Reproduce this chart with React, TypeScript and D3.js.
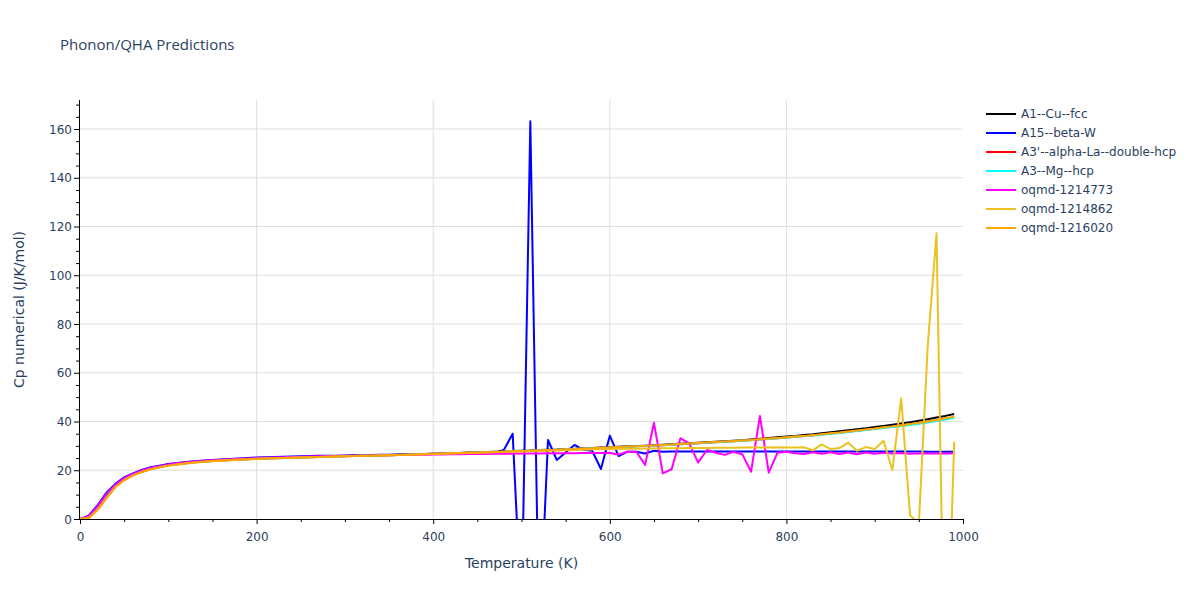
import { FC, useEffect, useRef } from 'react';
import * as d3 from 'd3';

// Temperature grid (K), one point every 10 K
const temperatures: number[] = d3.range(0, 1000, 10);

const seriesNames = [
  'A1--Cu--fcc',
  'A15--beta-W',
  "A3'--alpha-La--double-hcp",
  'A3--Mg--hcp',
  'oqmd-1214773',
  'oqmd-1214862',
  'oqmd-1216020',
];

const seriesColors = ['#000000', '#0000ff', '#ff0000', '#00ffff', '#ff00ff', '#ebc124', '#ffa500'];

const cuFcc = [
  0, 0.6, 4.2, 9.2, 13.5, 16.3, 18.2, 19.6, 20.7, 21.5,
  22.1, 22.6, 23.0, 23.4, 23.7, 23.9, 24.1, 24.3, 24.5, 24.6,
  24.8, 24.9, 25.0, 25.1, 25.2, 25.3, 25.4, 25.5, 25.6, 25.7,
  25.8, 25.9, 26.0, 26.1, 26.2, 26.3, 26.4, 26.5, 26.6, 26.7,
  26.8, 26.9, 27.0, 27.1, 27.3, 27.4, 27.5, 27.6, 27.7, 27.9,
  28.0, 28.1, 28.3, 28.4, 28.5, 28.7, 28.8, 29.0, 29.1, 29.3,
  29.4, 29.6, 29.8, 29.9, 30.1, 30.3, 30.5, 30.7, 30.9, 31.1,
  31.3, 31.5, 31.7, 31.9, 32.1, 32.3, 32.6, 32.9, 33.2, 33.5,
  33.8, 34.1, 34.5, 34.8, 35.2, 35.6, 36.0, 36.4, 36.8, 37.2,
  37.7, 38.2, 38.7, 39.2, 39.7, 40.3, 40.9, 41.6, 42.3, 43.1,
];

const betaW = [
  0, 1.4, 5.7, 10.8, 14.4, 17.1, 18.7, 20.1, 21.2, 21.9,
  22.6, 23.0, 23.4, 23.7, 24.0, 24.2, 24.4, 24.6, 24.8, 25.0,
  25.2, 25.3, 25.4, 25.5, 25.6, 25.7, 25.8, 25.9, 25.9, 26.0,
  26.1, 26.2, 26.2, 26.3, 26.4, 26.4, 26.5, 26.6, 26.6, 26.7,
  26.8, 26.8, 26.9, 27.0, 27.1, 27.1, 27.2, 27.3, 28.3, 35.0,
  -40.0, 163.2, -50.0, 32.4, 24.2, 27.3, 30.4, 28.4, 28.0, 20.5,
  34.2, 25.8, 27.6, 27.6, 26.9, 28.0, 27.6, 27.7, 27.7, 27.7,
  27.7, 27.7, 27.7, 27.7, 27.7, 27.7, 27.7, 27.7, 27.7, 27.7,
  27.7, 27.7, 27.7, 27.7, 27.7, 27.7, 27.7, 27.7, 27.7, 27.7,
  27.7, 27.7, 27.7, 27.7, 27.7, 27.7, 27.6, 27.6, 27.6, 27.6,
];

const alphaLa = [
  0, 0.5, 3.9, 8.8, 13.2, 16.0, 18.0, 19.4, 20.5, 21.3,
  22.0, 22.5, 22.9, 23.3, 23.6, 23.8, 24.0, 24.2, 24.4, 24.5,
  24.7, 24.8, 24.9, 25.0, 25.1, 25.2, 25.3, 25.4, 25.5, 25.6,
  25.7, 25.8, 25.9, 26.0, 26.1, 26.2, 26.3, 26.4, 26.5, 26.6,
  26.7, 26.8, 27.0, 27.1, 27.2, 27.3, 27.4, 27.5, 27.6, 27.8,
  27.9, 28.0, 28.2, 28.3, 28.4, 28.6, 28.7, 28.9, 29.0, 29.1,
  29.3, 29.5, 29.6, 29.8, 30.0, 30.1, 30.3, 30.5, 30.7, 30.9,
  31.1, 31.3, 31.5, 31.7, 31.9, 32.1, 32.4, 32.6, 32.9, 33.1,
  33.4, 33.7, 34.0, 34.4, 34.7, 35.1, 35.4, 35.8, 36.2, 36.6,
  37.0, 37.4, 37.9, 38.3, 38.8, 39.3, 39.8, 40.4, 41.0, 41.7,
];

const mgHcp = [
  0, 0.5, 4.0, 8.9, 13.3, 16.1, 18.0, 19.4, 20.5, 21.3,
  22.0, 22.5, 22.9, 23.3, 23.6, 23.8, 24.0, 24.2, 24.4, 24.6,
  24.7, 24.8, 24.9, 25.0, 25.1, 25.2, 25.3, 25.4, 25.5, 25.6,
  25.7, 25.8, 25.9, 26.0, 26.1, 26.2, 26.3, 26.4, 26.5, 26.6,
  26.7, 26.8, 26.9, 27.0, 27.2, 27.3, 27.4, 27.5, 27.6, 27.8,
  27.9, 28.0, 28.2, 28.3, 28.4, 28.6, 28.7, 28.9, 29.0, 29.1,
  29.3, 29.4, 29.6, 29.8, 29.9, 30.1, 30.3, 30.5, 30.7, 30.9,
  31.1, 31.3, 31.5, 31.7, 31.9, 32.1, 32.3, 32.6, 32.8, 33.1,
  33.4, 33.7, 34.0, 34.3, 34.6, 35.0, 35.3, 35.7, 36.1, 36.5,
  36.9, 37.3, 37.7, 38.2, 38.6, 39.1, 39.6, 40.2, 40.8, 41.5,
];

const oqmd1214773 = [
  0, 1.2, 5.3, 10.3, 14.0, 16.8, 18.5, 19.9, 21.0, 21.7,
  22.4, 22.9, 23.3, 23.6, 23.9, 24.1, 24.3, 24.5, 24.7, 24.8,
  25.0, 25.1, 25.2, 25.3, 25.4, 25.5, 25.6, 25.7, 25.7, 25.8,
  25.9, 26.0, 26.0, 26.1, 26.2, 26.2, 26.3, 26.3, 26.4, 26.4,
  26.5, 26.5, 26.6, 26.6, 26.7, 26.7, 26.7, 26.8, 26.8, 26.8,
  26.9, 26.9, 26.9, 27.0, 27.0, 27.0, 27.0, 27.1, 27.1, 27.1,
  27.2, 26.4, 27.6, 27.6, 22.2, 39.5, 18.7, 20.4, 33.1, 31.0,
  23.1, 28.3, 27.2, 26.3, 27.6, 26.6, 19.4, 42.3, 19.0, 27.2,
  27.6, 27.0, 26.7, 27.4, 26.8, 27.4, 26.7, 27.3, 26.6, 27.3,
  26.8, 27.2, 26.9, 27.1, 26.8, 27.0, 26.9, 27.0, 26.9, 27.0,
];

const oqmd1214862 = [
  0, 0.4, 3.9, 8.7, 13.1, 15.9, 17.9, 19.3, 20.4, 21.2,
  21.9, 22.4, 22.8, 23.2, 23.5, 23.7, 23.9, 24.1, 24.3, 24.5,
  24.6, 24.8, 24.9, 25.0, 25.1, 25.2, 25.3, 25.4, 25.5, 25.6,
  25.7, 25.8, 25.9, 26.0, 26.1, 26.2, 26.3, 26.4, 26.5, 26.6,
  26.7, 26.8, 26.9, 27.0, 27.1, 27.2, 27.3, 27.4, 27.5, 27.6,
  27.7, 27.8, 27.9, 28.0, 28.1, 28.2, 28.3, 28.4, 28.5, 28.6,
  28.7, 28.7, 28.8, 28.8, 28.9, 28.9, 29.0, 29.0, 29.0, 29.1,
  29.1, 29.1, 29.2, 29.2, 29.2, 29.3, 29.3, 29.3, 29.3, 29.4,
  29.3, 29.3, 29.4, 28.2, 30.6, 28.7, 29.1, 31.3, 28.0, 29.5,
  28.7, 32.1, 20.1, 49.5, 1.6, -2.0, 70.7, 117.2, -85.0, 31.7,
];

const oqmd1216020 = [
  0, 0.4, 3.8, 8.6, 13.0, 15.9, 17.9, 19.3, 20.4, 21.2,
  21.9, 22.4, 22.9, 23.2, 23.5, 23.8, 24.0, 24.2, 24.4, 24.5,
  24.7, 24.8, 24.9, 25.0, 25.1, 25.2, 25.3, 25.4, 25.5, 25.6,
  25.7, 25.8, 25.9, 26.0, 26.1, 26.2, 26.3, 26.4, 26.5, 26.6,
  26.8, 26.9, 27.0, 27.1, 27.2, 27.3, 27.4, 27.5, 27.7, 27.8,
  27.9, 28.0, 28.2, 28.3, 28.4, 28.6, 28.7, 28.9, 29.0, 29.2,
  29.3, 29.5, 29.7, 29.8, 30.0, 30.2, 30.4, 30.6, 30.8, 31.0,
  31.2, 31.4, 31.6, 31.8, 32.0, 32.2, 32.4, 32.7, 33.0, 33.2,
  33.5, 33.8, 34.1, 34.4, 34.8, 35.2, 35.5, 35.9, 36.3, 36.7,
  37.1, 37.6, 38.0, 38.5, 39.0, 39.5, 40.0, 40.6, 41.3, 42.0,
];

const seriesValues = [cuFcc, betaW, alphaLa, mgHcp, oqmd1214773, oqmd1214862, oqmd1216020];

const xTicks = [0, 200, 400, 600, 800, 1000];
const yTicks = [0, 20, 40, 60, 80, 100, 120, 140, 160];

const FONT = '"DejaVu Sans", Verdana, sans-serif';
const TITLE_FONT = '"Open Sans", verdana, arial, sans-serif';
const TEXT_COLOR = '#2a3f5f';

const PhononChart: FC = () => {
  const svgRef = useRef<SVGSVGElement>(null);

  useEffect(() => {
    if (!svgRef.current) return;
    const svg = d3.select(svgRef.current);
    svg.selectAll('*').remove();

    const left = 80;
    const right = 963;
    const top = 100;
    const bottom = 519;

    const x = d3.scaleLinear().domain([0, 1000]).range([left, right]);
    const y = d3.scaleLinear().domain([0, 171.9]).range([bottom, top]);

    svg.append('rect').attr('width', 1200).attr('height', 600).attr('fill', '#fff');

    // grid
    const grid = svg.append('g');
    grid.selectAll('line.h')
      .data(yTicks.filter(d => d > 0))
      .enter()
      .append('line')
      .attr('x1', left)
      .attr('x2', right)
      .attr('y1', d => y(d))
      .attr('y2', d => y(d))
      .attr('stroke', '#dedede')
      .attr('stroke-width', 1);
    grid.selectAll('line.v')
      .data(xTicks.filter(d => d > 0 && d < 1000))
      .enter()
      .append('line')
      .attr('x1', d => x(d))
      .attr('x2', d => x(d))
      .attr('y1', top)
      .attr('y2', bottom)
      .attr('stroke', '#dedede')
      .attr('stroke-width', 1);

    svg.append('defs')
      .append('clipPath')
      .attr('id', 'plot-clip')
      .append('rect')
      .attr('x', left)
      .attr('y', top)
      .attr('width', right - left)
      .attr('height', bottom - top);

    // lines
    const lines = svg.append('g').attr('clip-path', 'url(#plot-clip)');
    seriesValues.forEach((vals, i) => {
      const line = d3.line<number>()
        .x((_, j) => x(temperatures[j]))
        .y(d => y(d));
      lines.append('path')
        .datum(vals)
        .attr('fill', 'none')
        .attr('stroke', seriesColors[i])
        .attr('stroke-width', 2)
        .attr('stroke-linejoin', 'round')
        .attr('d', line);
    });

    // x axis
    const xAxis = svg.append('g')
      .attr('transform', `translate(0,${bottom})`)
      .call(d3.axisBottom(x).tickValues(d3.range(0, 1001, 50)).tickSize(0).tickFormat(() => ''));
    xAxis.select('.domain').remove();
    xAxis.selectAll('.tick line')
      .attr('y2', d => ((d as number) % 200 === 0 ? 5 : 3))
      .attr('stroke', '#000');
    xAxis.selectAll('.tick text')
      .attr('y', 22)
      .attr('dy', 0)
      .style('font-family', FONT)
      .style('font-size', '12px')
      .style('fill', TEXT_COLOR)
      .text(d => ((d as number) % 200 === 0 ? String(d) : ''));
    svg.append('line')
      .attr('x1', left - 1)
      .attr('x2', right)
      .attr('y1', bottom + 0.5)
      .attr('y2', bottom + 0.5)
      .attr('stroke', '#000');

    // y axis
    const yAxis = svg.append('g')
      .attr('transform', `translate(${left - 1},0)`)
      .call(d3.axisLeft(y).tickValues(d3.range(0, 171, 5)).tickSize(0).tickFormat(() => ''));
    yAxis.select('.domain').remove();
    yAxis.selectAll('.tick line')
      .attr('x2', d => ((d as number) % 20 === 0 ? -5 : -3))
      .attr('stroke', '#000');
    yAxis.selectAll('.tick text')
      .attr('x', -7)
      .attr('dy', '0.35em')
      .style('font-family', FONT)
      .style('font-size', '12px')
      .style('fill', TEXT_COLOR)
      .text(d => ((d as number) % 20 === 0 ? String(d) : ''));
    svg.append('line')
      .attr('x1', left - 0.5)
      .attr('x2', left - 0.5)
      .attr('y1', top)
      .attr('y2', bottom + 1)
      .attr('stroke', '#000');

    // titles
    svg.append('text')
      .attr('x', 60)
      .attr('y', 50)
      .style('font-family', TITLE_FONT)
      .style('font-size', '15px')
      .style('fill', TEXT_COLOR)
      .text('Phonon/QHA Predictions');

    svg.append('text')
      .attr('x', (left + right) / 2)
      .attr('y', 568)
      .attr('text-anchor', 'middle')
      .style('font-family', FONT)
      .style('font-size', '14px')
      .style('fill', TEXT_COLOR)
      .text('Temperature (K)');

    svg.append('text')
      .attr('transform', `translate(24,${(top + bottom) / 2}) rotate(-90)`)
      .attr('text-anchor', 'middle')
      .style('font-family', FONT)
      .style('font-size', '14px')
      .style('fill', TEXT_COLOR)
      .text('Cp numerical (J/K/mol)');

    // legend
    const legend = svg.append('g').attr('transform', 'translate(986,114)');
    seriesNames.forEach((name, i) => {
      const item = legend.append('g').attr('transform', `translate(0,${i * 19})`);
      item.append('line')
        .attr('x1', 0)
        .attr('x2', 30)
        .attr('stroke', seriesColors[i])
        .attr('stroke-width', 2);
      item.append('text')
        .attr('x', 35)
        .attr('dy', '0.35em')
        .style('font-family', FONT)
        .style('font-size', '12px')
        .style('fill', TEXT_COLOR)
        .text(name);
    });
  }, []);

  return (
    <svg
      ref={svgRef}
      width={1200}
      height={600}
      style={{ position: 'absolute', left: 0, top: 0, display: 'block' }}
    />
  );
};

export default function App() {
  return <PhononChart />;
}
